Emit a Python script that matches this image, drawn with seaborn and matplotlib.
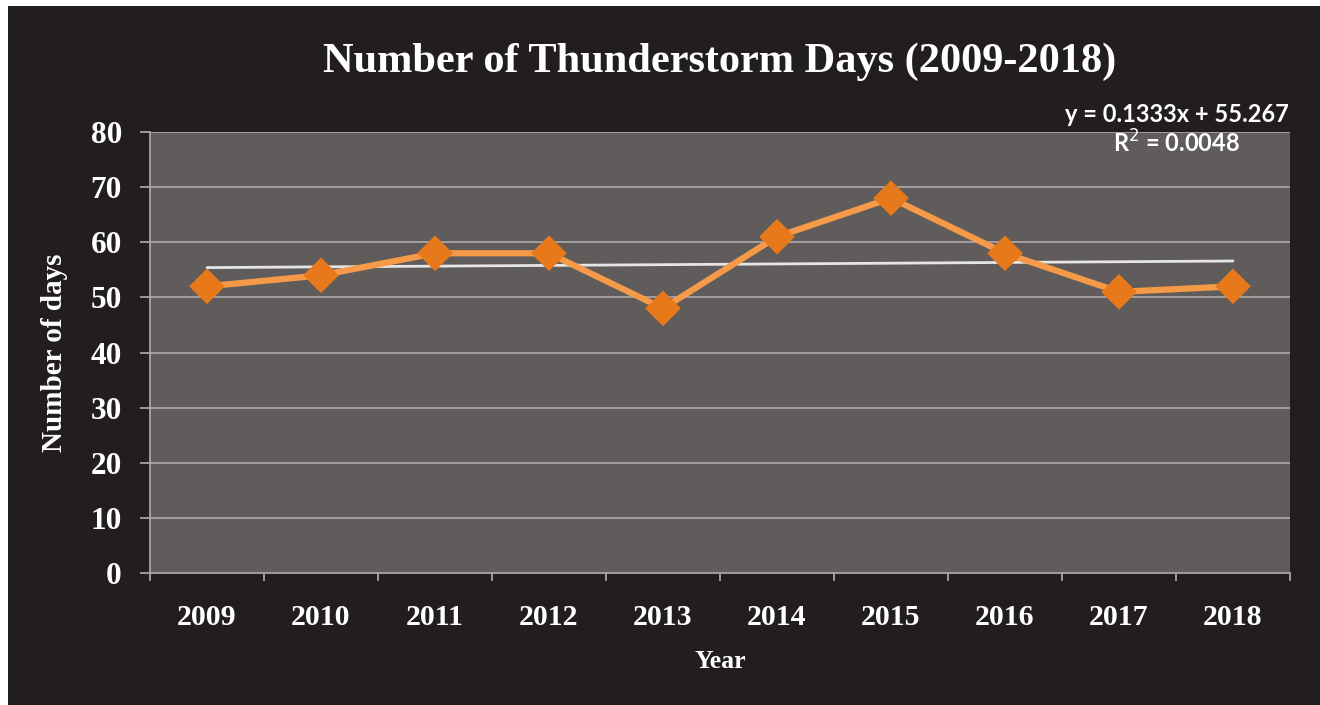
import numpy as np
import pandas as pd
import seaborn as sns
import matplotlib.pyplot as plt
from matplotlib.patches import Rectangle

years = ['2009', '2010', '2011', '2012', '2013', '2014', '2015', '2016', '2017', '2018']
days = [52, 54, 58, 58, 48, 61, 68, 58, 51, 52]
slope = 0.1333
intercept = 55.267
r2 = 0.0048
yticks = [0, 10, 20, 30, 40, 50, 60, 70, 80]

bg = '#221e1d'
panel = '#605c5b'
grid = '#a8a5a4'

sns.set_theme(style='dark')
plt.rcParams['font.family'] = ['Liberation Serif', 'DejaVu Serif']

df = pd.DataFrame({'Year': years, 'Days': days})
df['x'] = np.arange(len(years))
df['trend'] = slope * (df['x'] + 1) + intercept

fig = plt.figure(figsize=(13.2, 7.05), dpi=100, facecolor='white')
fig.patches.append(Rectangle((8 / 1320, 0), 1, 1 - 6 / 705, transform=fig.transFigure,
                             facecolor=bg, edgecolor='none', zorder=-10))
ax = fig.add_axes([150 / 1320, 1 - 573 / 705, 1140 / 1320, 441 / 705])
ax.set_facecolor(panel)

for t in yticks[1:]:
    ax.axhline(t, color=grid, lw=1.3, zorder=1)

sns.lineplot(data=df, x='x', y='trend', ax=ax, color='#e6e6e6', lw=2, zorder=2)
sns.lineplot(data=df, x='x', y='Days', ax=ax, color='#f59a48', lw=4.5, zorder=3)
sns.scatterplot(data=df, x='x', y='Days', ax=ax, marker='D', s=330, color='#e8791a',
                edgecolor='none', zorder=4)

ax.set_xlim(-0.5, len(years) - 0.5)
ax.set_ylim(0, 80)
ax.set_xticks(df['x'])
ax.set_xticklabels(years)
ax.set_yticks(yticks)
ax.tick_params(axis='x', which='major', bottom=True, length=0, pad=22, labelsize=21.5,
               labelcolor='white')
ax.tick_params(axis='y', which='major', left=True, length=7.2, width=1.3, color=grid,
               pad=13, labelsize=22.5, labelcolor='white')
for lab in ax.get_xticklabels() + ax.get_yticklabels():
    lab.set_fontweight('bold')
# category boundary ticks on the x axis
ax.set_xticks(np.arange(-0.5, len(years)), minor=True)
ax.tick_params(axis='x', which='minor', bottom=True, length=5.5, width=1.3, color=grid,
               direction='out')

for side in ['top', 'right']:
    ax.spines[side].set_visible(False)
for side in ['left', 'bottom']:
    ax.spines[side].set_visible(True)
    ax.spines[side].set_color(grid)
    ax.spines[side].set_linewidth(1.3)

ax.set_xlabel('Year', fontsize=18.5, fontweight='bold', color='white', labelpad=14)
ax.set_ylabel('Number of days', fontsize=21, fontweight='bold', color='white', labelpad=16)

fig.text(720 / 1320, 1 - 62 / 705, 'Number of Thunderstorm Days (2009-2018)', ha='center',
         va='center', fontsize=30.5, fontweight='bold', color='white')
fig.text(1177 / 1320, 1 - 114 / 705, f'y = {slope}x + {intercept}', ha='center', va='center',
         fontsize=17, fontweight='bold', color='white', family=['Lato', 'DejaVu Sans'])
fig.text(1177 / 1320, 1 - 143 / 705, f'R$^2$ = {r2}', ha='center', va='center',
         fontsize=17, fontweight='bold', color='white', family=['Lato', 'DejaVu Sans'])

fig.savefig('out.png', dpi=100, facecolor='white')
